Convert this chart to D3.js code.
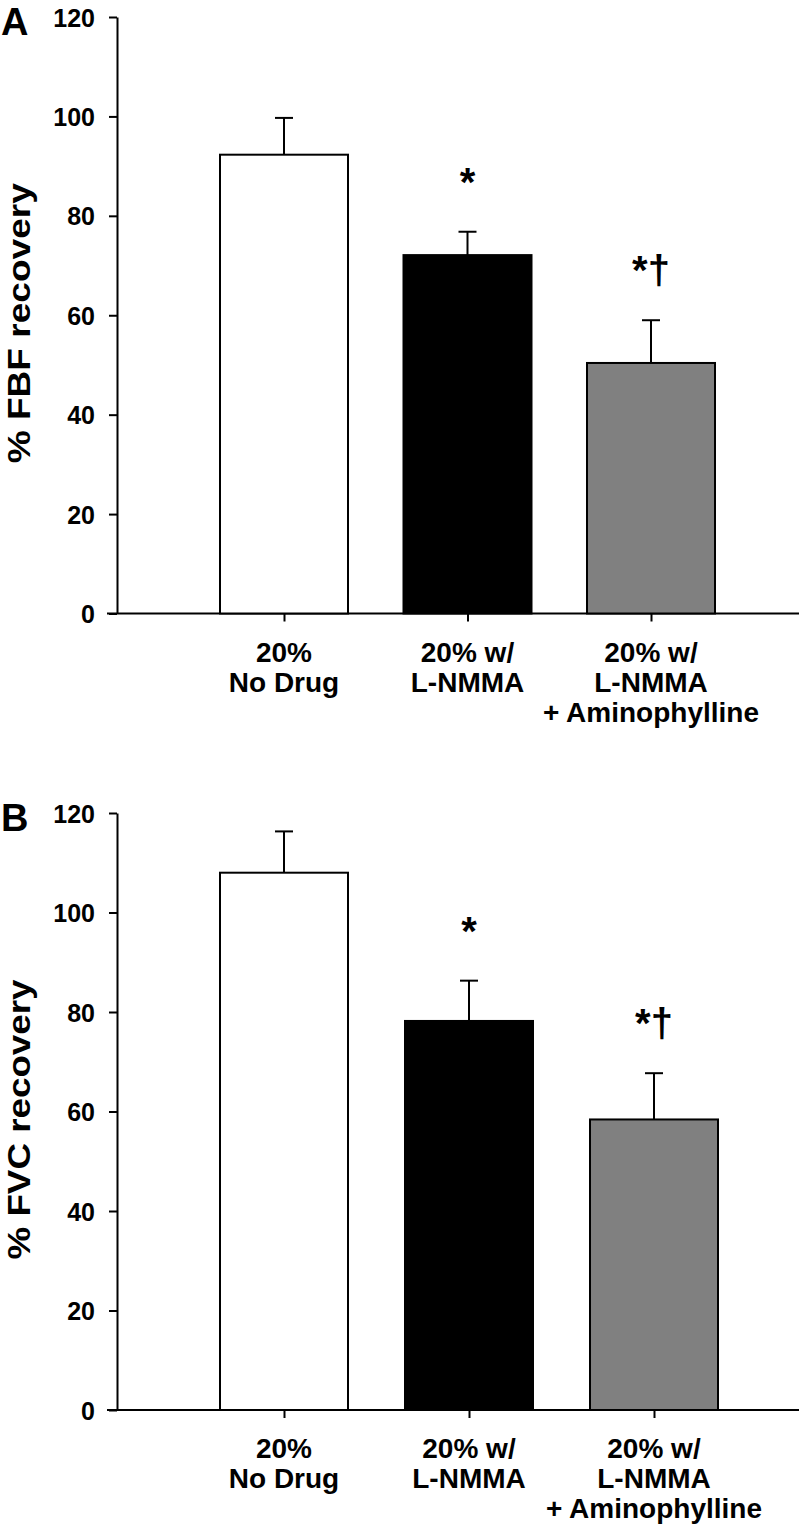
<!DOCTYPE html>
<html>
<head>
<meta charset="utf-8">
<script src="https://cdn.jsdelivr.net/npm/d3@7"></script>
<style>
  body { margin: 0; background: #fff; }
  svg text { font-family: "Liberation Sans", Arial, sans-serif; font-weight: bold; fill: #000; }
</style>
</head>
<body>
<div id="figure"></div>
<script>
// ------------------------------------------------------------------------ //
// DATA
// ------------------------------------------------------------------------ //

var groups = ["noDrug", "lnmma", "lnmmaAmino"]
var groupLabels = [["20%", "No Drug"], ["20% w/", "L-NMMA"], ["20% w/", "L-NMMA", "+ Aminophylline"]]
var groupColors = ["#ffffff", "#000000", "#808080"]
var groupMarks = ["", "*", "*\u2020"]

// panel A : forearm blood flow
var fbfMean = [92.3, 72.1, 50.4]
var fbfErr = [7.4, 4.7, 8.6]

// panel B : forearm vascular conductance
var fvcMean = [108.0, 78.2, 58.4]
var fvcErr = [8.3, 8.1, 9.3]

var yTicks = [0, 20, 40, 60, 80, 100, 120]
var panelLetters = ["A", "B"]
var yTitles = ["% FBF recovery", "% FVC recovery"]

// ------------------------------------------------------------------------ //
// SVG AREA
// ------------------------------------------------------------------------ //

var W = 802, H = 1529

var svg = d3.select("#figure")
  .append("svg")
    .attr("width", W)
    .attr("height", H)

var axisX = 117, axisRight = 799
var barWidth = 128

var panels = [
  { top: 17, bottom: 613.5, mean: fbfMean, err: fbfErr, xr: [284, 651] },
  { top: 813, bottom: 1410, mean: fvcMean, err: fvcErr, xr: [284, 654] }
]

panels.forEach(function(p, i) {

  var g = svg.append("g")

  // scales
  var y = d3.scaleLinear()
    .domain([0, 120])
    .range([p.bottom, p.top])

  var x = d3.scalePoint()
    .domain(groups)
    .range(p.xr)

  var rows = groups.map(function(k, j) {
    return { key: k, mean: p.mean[j], err: p.err[j], color: groupColors[j], mark: groupMarks[j], lines: groupLabels[j] }
  })

  // Y axis
  var yAxis = g.append("g")
    .attr("transform", "translate(" + axisX + ",0)")
    .call(d3.axisLeft(y).tickValues(yTicks).tickSize(8).tickSizeOuter(0).tickPadding(14))
  yAxis.select(".domain").attr("stroke-width", 2)
  yAxis.selectAll(".tick line").attr("stroke-width", 2)
  yAxis.selectAll(".tick text")
    .style("font-size", "25px")
    .attr("dy", "0.36em")

  // X axis baseline
  g.append("line")
    .attr("x1", axisX - 10)
    .attr("x2", axisRight)
    .attr("y1", y(0))
    .attr("y2", y(0))
    .attr("stroke", "#000")
    .attr("stroke-width", 2)

  // bars
  g.selectAll(".bar")
    .data(rows)
    .enter()
    .append("rect")
      .attr("class", "bar")
      .attr("x", function(d) { return x(d.key) - barWidth / 2 })
      .attr("y", function(d) { return y(d.mean) })
      .attr("width", barWidth)
      .attr("height", function(d) { return y(0) - y(d.mean) })
      .style("fill", function(d) { return d.color })
      .style("stroke", "#000")
      .style("stroke-width", 2)

  // error bars (upper only)
  g.selectAll(".errLine")
    .data(rows)
    .enter()
    .append("line")
      .attr("x1", function(d) { return x(d.key) })
      .attr("x2", function(d) { return x(d.key) })
      .attr("y1", function(d) { return y(d.mean) })
      .attr("y2", function(d) { return y(d.mean + d.err) })
      .attr("stroke", "#000")
      .attr("stroke-width", 2)
  g.selectAll(".errCap")
    .data(rows)
    .enter()
    .append("line")
      .attr("x1", function(d) { return x(d.key) - 9 })
      .attr("x2", function(d) { return x(d.key) + 9 })
      .attr("y1", function(d) { return y(d.mean + d.err) })
      .attr("y2", function(d) { return y(d.mean + d.err) })
      .attr("stroke", "#000")
      .attr("stroke-width", 2)

  // significance marks
  g.selectAll(".mark")
    .data(rows.filter(function(d) { return d.mark !== "" }))
    .enter()
    .append("text")
      .attr("x", function(d) { return x(d.key) })
      .attr("y", function(d) { return y(d.mean + d.err) - 36 })
      .style("font-size", "40px")
      .style("text-anchor", "middle")
      .text(function(d) { return d.mark })

  // category ticks + labels
  var xAxis = g.append("g")
    .attr("transform", "translate(0," + y(0) + ")")
    .call(d3.axisBottom(x).tickSize(8).tickSizeOuter(0).tickFormat(""))
  xAxis.select(".domain").remove()
  xAxis.selectAll(".tick line").attr("stroke-width", 2)

  g.selectAll(".catLabel")
    .data(rows)
    .enter()
    .append("text")
      .attr("class", "catLabel")
      .attr("x", function(d) { return x(d.key) })
      .attr("y", y(0) + 48)
      .style("font-size", "28px")
      .style("text-anchor", "middle")
    .selectAll("tspan")
    .data(function(d) { return d.lines.map(function(t) { return { t: t, x: x(d.key) } }) })
    .enter()
    .append("tspan")
      .attr("x", function(d) { return d.x })
      .attr("dy", function(d, k) { return k === 0 ? 0 : 30 })
      .text(function(d) { return d.t })

  // y title
  g.append("text")
    .attr("transform", "translate(30," + ((p.top + p.bottom) / 2 + 8) + ")rotate(-90)")
    .style("font-size", "32px")
    .style("text-anchor", "middle")
    .attr("textLength", 280)
    .attr("lengthAdjust", "spacingAndGlyphs")
    .text(yTitles[i])

  // panel letter
  g.append("text")
    .attr("x", 1)
    .attr("y", p.top + 18)
    .style("font-size", "38px")
    .text(panelLetters[i])
})
</script>
</body>
</html>
